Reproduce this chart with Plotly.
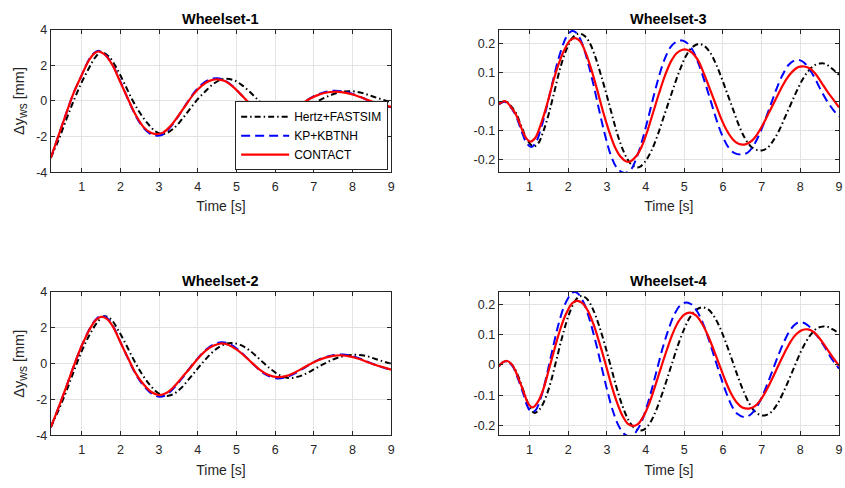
import plotly.graph_objects as go

# ---------------- data ----------------
series_names = ["Hertz+FASTSIM", "KP+KBTNH", "CONTACT"]
panel_titles = ["Wheelset-1", "Wheelset-3", "Wheelset-2", "Wheelset-4"]

x_ticks = [1, 2, 3, 4, 5, 6, 7, 8, 9]
x_ticklabels = ["1", "2", "3", "4", "5", "6", "7", "8", "9"]
y_ticks_mm = [-4, -2, 0, 2, 4]
y_ticklabels_mm = ["-4", "-2", "0", "2", "4"]
y_ticks_small = [-0.2, -0.1, 0, 0.1, 0.2]
y_ticklabels_small = ["-0.2", "-0.1", "0", "0.1", "0.2"]

# Wheelset-1 [mm]
ws1_hertz_t = [0.2, 0.4, 0.6, 0.8, 1.0, 1.2, 1.35, 1.5, 1.7, 1.9, 2.1, 2.3, 2.5, 2.7, 2.9, 3.05, 3.2, 3.4, 3.6, 3.8, 4.0, 4.2, 4.4, 4.6, 4.75, 4.95, 5.15, 5.35, 5.55, 5.75, 5.95, 6.15, 6.3, 6.5, 6.7, 6.9, 7.1, 7.3, 7.5, 7.7, 7.95, 8.2, 8.4, 8.6, 8.8, 9.0]
ws1_hertz_y = [-3.2, -2.2, -1.05, 0.05, 1.05, 1.9, 2.45, 2.76, 2.5, 1.85, 1.0, 0.1, -0.65, -1.25, -1.7, -1.85, -1.8, -1.5, -1.0, -0.45, 0.1, 0.55, 0.95, 1.2, 1.25, 1.15, 0.88, 0.5, 0.08, -0.3, -0.6, -0.78, -0.8, -0.72, -0.52, -0.27, -0.02, 0.2, 0.38, 0.5, 0.55, 0.48, 0.35, 0.2, 0.06, -0.06]
ws1_kp_t = [0.2, 0.4, 0.6, 0.8, 1.0, 1.1, 1.2, 1.3, 1.43, 1.6, 1.8, 2.0, 2.2, 2.4, 2.6, 2.8, 2.97, 3.12, 3.3, 3.5, 3.7, 3.9, 4.1, 4.3, 4.5, 4.7, 4.9, 5.1, 5.3, 5.5, 5.7, 5.9, 6.05, 6.3, 6.5, 6.7, 6.9, 7.1, 7.3, 7.55, 7.8, 8.0, 8.2, 8.4, 8.6, 8.8, 9.0]
ws1_kp_y = [-3.2, -1.95, -0.7, 0.5, 1.45, 1.95, 2.37, 2.65, 2.82, 2.62, 2.02, 1.1, 0.08, -0.85, -1.52, -1.88, -1.95, -1.86, -1.45, -0.85, -0.18, 0.45, 0.92, 1.2, 1.28, 1.16, 0.84, 0.4, -0.07, -0.5, -0.76, -0.87, -0.87, -0.7, -0.45, -0.15, 0.15, 0.37, 0.51, 0.58, 0.52, 0.4, 0.23, 0.05, -0.12, -0.26, -0.36]
ws1_contact_t = [0.2, 0.4, 0.6, 0.8, 1.0, 1.1, 1.2, 1.3, 1.42, 1.6, 1.8, 2.0, 2.2, 2.4, 2.6, 2.8, 2.95, 3.1, 3.3, 3.5, 3.7, 3.9, 4.1, 4.3, 4.5, 4.7, 4.9, 5.1, 5.3, 5.5, 5.7, 5.9, 6.05, 6.3, 6.5, 6.7, 6.9, 7.1, 7.3, 7.55, 7.8, 8.0, 8.2, 8.4, 8.6, 8.8, 9.0]
ws1_contact_y = [-3.2, -1.95, -0.7, 0.5, 1.45, 1.93, 2.33, 2.62, 2.78, 2.6, 2.0, 1.05, 0.1, -0.8, -1.47, -1.8, -1.86, -1.78, -1.4, -0.83, -0.2, 0.4, 0.85, 1.13, 1.22, 1.12, 0.82, 0.4, -0.05, -0.45, -0.7, -0.8, -0.8, -0.65, -0.42, -0.15, 0.12, 0.33, 0.46, 0.52, 0.47, 0.37, 0.22, 0.05, -0.1, -0.23, -0.33]

# Wheelset-2 [mm]
ws2_hertz_t = [0.2, 0.4, 0.6, 0.8, 1.0, 1.2, 1.4, 1.58, 1.75, 1.95, 2.15, 2.35, 2.55, 2.75, 2.95, 3.15, 3.35, 3.55, 3.75, 3.95, 4.15, 4.35, 4.55, 4.75, 4.9, 5.1, 5.3, 5.5, 5.7, 5.9, 6.1, 6.35, 6.6, 6.8, 7.0, 7.2, 7.4, 7.6, 7.85, 8.1, 8.35, 8.55, 8.75, 9.0]
ws2_hertz_y = [-3.55, -2.6, -1.55, -0.4, 0.7, 1.6, 2.3, 2.65, 2.5, 1.85, 1.05, 0.2, -0.55, -1.15, -1.6, -1.8, -1.72, -1.4, -0.92, -0.4, 0.12, 0.58, 0.93, 1.13, 1.16, 1.05, 0.8, 0.45, 0.05, -0.32, -0.62, -0.8, -0.72, -0.55, -0.32, -0.08, 0.14, 0.32, 0.46, 0.5, 0.44, 0.3, 0.16, 0.0]
ws2_kp_t = [0.2, 0.4, 0.6, 0.8, 1.0, 1.2, 1.35, 1.5, 1.65, 1.8, 2.0, 2.2, 2.4, 2.6, 2.8, 3.02, 3.2, 3.4, 3.6, 3.8, 4.0, 4.2, 4.4, 4.62, 4.8, 5.0, 5.2, 5.4, 5.6, 5.8, 6.05, 6.3, 6.5, 6.7, 6.9, 7.1, 7.3, 7.5, 7.74, 7.95, 8.2, 8.4, 8.6, 8.8, 9.0]
ws2_kp_y = [-3.55, -2.45, -1.3, -0.1, 1.0, 1.92, 2.43, 2.68, 2.56, 2.15, 1.22, 0.28, -0.6, -1.23, -1.66, -1.85, -1.72, -1.32, -0.8, -0.22, 0.3, 0.76, 1.06, 1.2, 1.12, 0.86, 0.48, 0.05, -0.36, -0.65, -0.82, -0.74, -0.55, -0.3, -0.04, 0.2, 0.37, 0.48, 0.52, 0.45, 0.28, 0.1, -0.07, -0.22, -0.35]
ws2_contact_t = [0.2, 0.4, 0.6, 0.8, 1.0, 1.2, 1.35, 1.5, 1.65, 1.8, 2.0, 2.2, 2.4, 2.6, 2.8, 3.0, 3.2, 3.4, 3.6, 3.8, 4.0, 4.2, 4.4, 4.6, 4.8, 5.0, 5.2, 5.4, 5.6, 5.8, 6.05, 6.3, 6.5, 6.7, 6.9, 7.1, 7.3, 7.5, 7.72, 7.95, 8.2, 8.4, 8.6, 8.8, 9.0]
ws2_contact_y = [-3.55, -2.45, -1.3, -0.1, 1.0, 1.9, 2.4, 2.62, 2.5, 2.1, 1.2, 0.3, -0.55, -1.15, -1.58, -1.75, -1.62, -1.25, -0.75, -0.25, 0.28, 0.72, 1.0, 1.13, 1.05, 0.8, 0.45, 0.05, -0.33, -0.6, -0.75, -0.68, -0.5, -0.27, -0.03, 0.18, 0.34, 0.44, 0.47, 0.4, 0.25, 0.08, -0.07, -0.2, -0.33]

# Wheelset-3
ws3_hertz_t = [0.2, 0.38, 0.5, 0.65, 0.8, 0.95, 1.1, 1.22, 1.35, 1.5, 1.65, 1.8, 1.95, 2.1, 2.2, 2.3, 2.42, 2.55, 2.7, 2.85, 3.0, 3.15, 3.3, 3.45, 3.6, 3.75, 3.85, 4.0, 4.15, 4.3, 4.45, 4.6, 4.75, 4.9, 5.05, 5.2, 5.38, 5.52, 5.67, 5.82, 5.97, 6.12, 6.27, 6.42, 6.57, 6.72, 6.87, 7.0, 7.15, 7.3, 7.45, 7.6, 7.75, 7.9, 8.05, 8.2, 8.35, 8.5, 8.62, 8.75, 8.9, 9.0]
ws3_hertz_y = [-0.008, 0.001, -0.012, -0.04, -0.09, -0.135, -0.155, -0.145, -0.105, -0.04, 0.04, 0.12, 0.18, 0.22, 0.233, 0.236, 0.228, 0.205, 0.155, 0.09, 0.02, -0.055, -0.125, -0.178, -0.213, -0.227, -0.226, -0.205, -0.17, -0.12, -0.06, 0.0, 0.06, 0.115, 0.16, 0.188, 0.2, 0.193, 0.17, 0.13, 0.08, 0.025, -0.03, -0.085, -0.127, -0.155, -0.167, -0.169, -0.16, -0.135, -0.1, -0.055, -0.01, 0.035, 0.075, 0.105, 0.125, 0.132, 0.132, 0.122, 0.105, 0.093]
ws3_kp_t = [0.2, 0.35, 0.5, 0.65, 0.8, 0.93, 1.05, 1.17, 1.3, 1.45, 1.6, 1.75, 1.9, 2.0, 2.1, 2.2, 2.35, 2.5, 2.65, 2.8, 2.95, 3.1, 3.25, 3.4, 3.5, 3.62, 3.75, 3.9, 4.05, 4.2, 4.35, 4.5, 4.65, 4.8, 4.95, 5.1, 5.25, 5.4, 5.55, 5.7, 5.85, 6.0, 6.15, 6.3, 6.5, 6.65, 6.8, 6.95, 7.1, 7.25, 7.4, 7.55, 7.7, 7.85, 7.98, 8.1, 8.25, 8.4, 8.55, 8.7, 8.85, 9.0]
ws3_kp_y = [-0.01, 0.0, -0.017, -0.05, -0.105, -0.145, -0.157, -0.14, -0.09, -0.015, 0.07, 0.15, 0.21, 0.235, 0.245, 0.24, 0.205, 0.14, 0.06, -0.03, -0.115, -0.185, -0.228, -0.245, -0.246, -0.235, -0.2, -0.14, -0.065, 0.015, 0.09, 0.15, 0.19, 0.208, 0.212, 0.2, 0.17, 0.12, 0.06, -0.005, -0.07, -0.123, -0.16, -0.178, -0.183, -0.175, -0.15, -0.11, -0.06, -0.005, 0.05, 0.095, 0.128, 0.143, 0.144, 0.135, 0.11, 0.075, 0.035, 0.0, -0.028, -0.052]
ws3_contact_t = [0.2, 0.37, 0.5, 0.65, 0.8, 0.92, 1.03, 1.15, 1.3, 1.45, 1.6, 1.75, 1.9, 2.05, 2.18, 2.3, 2.45, 2.6, 2.75, 2.9, 3.05, 3.2, 3.35, 3.5, 3.6, 3.75, 3.9, 4.05, 4.2, 4.35, 4.5, 4.65, 4.8, 4.95, 5.07, 5.2, 5.35, 5.5, 5.65, 5.8, 5.95, 6.1, 6.25, 6.4, 6.58, 6.75, 6.9, 7.05, 7.2, 7.35, 7.5, 7.65, 7.8, 7.95, 8.1, 8.25, 8.4, 8.55, 8.7, 8.85, 9.0]
ws3_contact_y = [-0.008, 0.002, -0.015, -0.045, -0.095, -0.128, -0.138, -0.125, -0.075, -0.01, 0.065, 0.13, 0.18, 0.213, 0.22, 0.21, 0.17, 0.11, 0.04, -0.035, -0.1, -0.155, -0.19, -0.207, -0.207, -0.19, -0.155, -0.1, -0.035, 0.03, 0.09, 0.138, 0.168, 0.18, 0.18, 0.17, 0.145, 0.1, 0.048, -0.005, -0.058, -0.1, -0.13, -0.146, -0.148, -0.135, -0.11, -0.075, -0.035, 0.005, 0.045, 0.08, 0.105, 0.12, 0.122, 0.115, 0.095, 0.065, 0.035, 0.008, -0.02]

# Wheelset-4
ws4_hertz_t = [0.2, 0.3, 0.42, 0.55, 0.7, 0.85, 1.0, 1.12, 1.25, 1.4, 1.55, 1.7, 1.85, 2.0, 2.15, 2.27, 2.37, 2.5, 2.65, 2.8, 2.95, 3.1, 3.25, 3.4, 3.55, 3.7, 3.85, 3.97, 4.12, 4.27, 4.42, 4.57, 4.72, 4.87, 5.02, 5.17, 5.32, 5.47, 5.62, 5.77, 5.92, 6.07, 6.22, 6.37, 6.52, 6.67, 6.82, 6.97, 7.1, 7.25, 7.4, 7.55, 7.7, 7.85, 8.0, 8.15, 8.3, 8.45, 8.6, 8.72, 8.85, 9.0]
ws4_hertz_y = [-0.005, 0.008, 0.012, 0.0, -0.035, -0.088, -0.138, -0.158, -0.148, -0.113, -0.055, 0.02, 0.095, 0.16, 0.205, 0.224, 0.227, 0.215, 0.18, 0.128, 0.065, -0.005, -0.075, -0.135, -0.18, -0.207, -0.216, -0.212, -0.19, -0.15, -0.098, -0.04, 0.02, 0.077, 0.125, 0.162, 0.183, 0.19, 0.183, 0.16, 0.123, 0.075, 0.022, -0.033, -0.083, -0.125, -0.153, -0.165, -0.166, -0.155, -0.13, -0.093, -0.05, -0.005, 0.04, 0.077, 0.105, 0.122, 0.127, 0.125, 0.116, 0.104]
ws4_kp_t = [0.2, 0.3, 0.4, 0.55, 0.7, 0.85, 0.95, 1.05, 1.15, 1.3, 1.45, 1.6, 1.75, 1.9, 2.05, 2.15, 2.25, 2.4, 2.55, 2.7, 2.85, 3.0, 3.15, 3.3, 3.45, 3.58, 3.7, 3.85, 4.0, 4.15, 4.3, 4.45, 4.6, 4.75, 4.9, 5.05, 5.18, 5.33, 5.48, 5.63, 5.78, 5.93, 6.08, 6.23, 6.38, 6.55, 6.7, 6.85, 7.0, 7.15, 7.3, 7.45, 7.6, 7.75, 7.9, 8.05, 8.2, 8.35, 8.5, 8.65, 8.8, 8.93, 9.0]
ws4_kp_y = [-0.005, 0.008, 0.012, -0.002, -0.045, -0.1, -0.138, -0.155, -0.15, -0.105, -0.03, 0.055, 0.135, 0.195, 0.23, 0.24, 0.235, 0.205, 0.15, 0.08, 0.0, -0.08, -0.15, -0.2, -0.228, -0.235, -0.228, -0.2, -0.15, -0.085, -0.012, 0.06, 0.12, 0.168, 0.197, 0.206, 0.2, 0.177, 0.138, 0.085, 0.025, -0.035, -0.09, -0.135, -0.162, -0.172, -0.165, -0.143, -0.108, -0.062, -0.012, 0.038, 0.082, 0.117, 0.137, 0.14, 0.13, 0.108, 0.085, 0.055, 0.022, 0.0, -0.012]
ws4_contact_t = [0.2, 0.3, 0.42, 0.55, 0.7, 0.85, 0.97, 1.08, 1.2, 1.35, 1.5, 1.65, 1.8, 1.95, 2.1, 2.22, 2.35, 2.5, 2.65, 2.8, 2.95, 3.1, 3.25, 3.4, 3.55, 3.68, 3.8, 3.95, 4.1, 4.25, 4.4, 4.55, 4.7, 4.85, 5.0, 5.15, 5.3, 5.45, 5.6, 5.75, 5.9, 6.05, 6.2, 6.35, 6.5, 6.7, 6.85, 7.0, 7.15, 7.3, 7.45, 7.6, 7.75, 7.9, 8.05, 8.2, 8.35, 8.5, 8.65, 8.8, 9.0]
ws4_contact_y = [-0.005, 0.008, 0.013, 0.0, -0.04, -0.09, -0.128, -0.14, -0.125, -0.082, -0.015, 0.055, 0.12, 0.17, 0.203, 0.211, 0.205, 0.18, 0.135, 0.075, 0.01, -0.06, -0.12, -0.167, -0.195, -0.201, -0.195, -0.168, -0.125, -0.068, -0.008, 0.05, 0.103, 0.143, 0.166, 0.172, 0.163, 0.138, 0.1, 0.053, 0.003, -0.048, -0.092, -0.123, -0.14, -0.143, -0.133, -0.11, -0.077, -0.038, 0.003, 0.042, 0.077, 0.102, 0.115, 0.117, 0.108, 0.087, 0.06, 0.032, -0.003]

# ---------------- styling ----------------
FONT = "Liberation Sans, Arial, Helvetica, sans-serif"
AX = "#262626"
GRID = "#e3e3e3"
styles = [
    dict(color="black", width=2, dash="6px,3px,1.5px,3px"),
    dict(color="#0000ff", width=2, dash="9px,5px"),
    dict(color="#ff0000", width=2.2, dash="solid"),
]

panels = [
    ("x", "y", [(ws1_hertz_t, ws1_hertz_y), (ws1_kp_t, ws1_kp_y), (ws1_contact_t, ws1_contact_y)], True),
    ("x2", "y2", [(ws3_hertz_t, ws3_hertz_y), (ws3_kp_t, ws3_kp_y), (ws3_contact_t, ws3_contact_y)], False),
    ("x3", "y3", [(ws2_hertz_t, ws2_hertz_y), (ws2_kp_t, ws2_kp_y), (ws2_contact_t, ws2_contact_y)], False),
    ("x4", "y4", [(ws4_hertz_t, ws4_hertz_y), (ws4_kp_t, ws4_kp_y), (ws4_contact_t, ws4_contact_y)], False),
]

fig = go.Figure()
for xa, ya, data, show in panels:
    for (t, y), name, st in zip(data, series_names, styles):
        fig.add_trace(go.Scatter(
            x=t, y=y, mode="lines", name=name, xaxis=xa, yaxis=ya,
            line=dict(color=st["color"], width=st["width"], dash=st["dash"], shape="spline", smoothing=1.0),
            showlegend=show,
        ))

W, H = 845, 488
xdom_left = [51 / W, 393 / W]
xdom_right = [501 / W, 843 / W]
ydom_top = [1 - 170 / H, 1 - 23.5 / H]
ydom_bot = [1 - 441 / H, 1 - 293.5 / H]

def xaxis(dom, anchor):
    return dict(domain=dom, anchor=anchor, range=[0.2, 9], tickvals=x_ticks, ticktext=x_ticklabels,
                showline=True, linecolor=AX, linewidth=1, mirror="ticks", ticks="inside", ticklen=4,
                tickcolor=AX, showgrid=True, gridcolor=GRID, gridwidth=1, zeroline=False,
                ticklabelstandoff=3,
                tickfont=dict(family=FONT, size=12.5, color=AX),
                title=dict(text="Time [s]", font=dict(family=FONT, size=14, color=AX), standoff=8))

def yaxis(dom, anchor, rng, tv, tt, title):
    d = dict(domain=dom, anchor=anchor, range=rng, tickvals=tv, ticktext=tt,
             showline=True, linecolor=AX, linewidth=1, mirror="ticks", ticks="inside", ticklen=4,
             tickcolor=AX, showgrid=True, gridcolor=GRID, gridwidth=1, zeroline=False,
             tickfont=dict(family=FONT, size=12.5, color=AX))
    if title:
        d["title"] = dict(text="\u0394y<sub><span style='font-size:12px'>ws</span></sub> [mm]",
                          font=dict(family=FONT, size=14.5, color=AX), standoff=8)
    return d

fig.update_layout(
    width=W, height=H,
    margin=dict(l=0, r=0, t=0, b=0),
    paper_bgcolor="white", plot_bgcolor="white",
    font=dict(family=FONT, color=AX),
    xaxis=xaxis(xdom_left, "y"),
    yaxis=yaxis(ydom_top, "x", [-4, 4], y_ticks_mm, y_ticklabels_mm, True),
    xaxis2=xaxis(xdom_right, "y2"),
    yaxis2=yaxis(ydom_top, "x2", [-0.244, 0.249], y_ticks_small, y_ticklabels_small, False),
    xaxis3=xaxis(xdom_left, "y3"),
    yaxis3=yaxis(ydom_bot, "x3", [-4, 4], y_ticks_mm, y_ticklabels_mm, True),
    xaxis4=xaxis(xdom_right, "y4"),
    yaxis4=yaxis(ydom_bot, "x4", [-0.232, 0.24], y_ticks_small, y_ticklabels_small, False),
    legend=dict(x=390 / W, y=1 - 168 / H, xanchor="right", yanchor="bottom",
                bgcolor="white", bordercolor=AX, borderwidth=1,
                font=dict(family=FONT, size=12, color="black"),
                tracegroupgap=0, itemwidth=48),
    showlegend=True,
)

title_pos = [(xdom_left, ydom_top), (xdom_right, ydom_top), (xdom_left, ydom_bot), (xdom_right, ydom_bot)]
for title, (xd, yd) in zip(panel_titles, title_pos):
    fig.add_annotation(text="<b>%s</b>" % title, xref="paper", yref="paper",
                       x=(xd[0] + xd[1]) / 2, y=yd[1], xanchor="center", yanchor="bottom",
                       yshift=1, showarrow=False, font=dict(family=FONT, size=14.5, color="black"))

fig.write_html("out.html")
